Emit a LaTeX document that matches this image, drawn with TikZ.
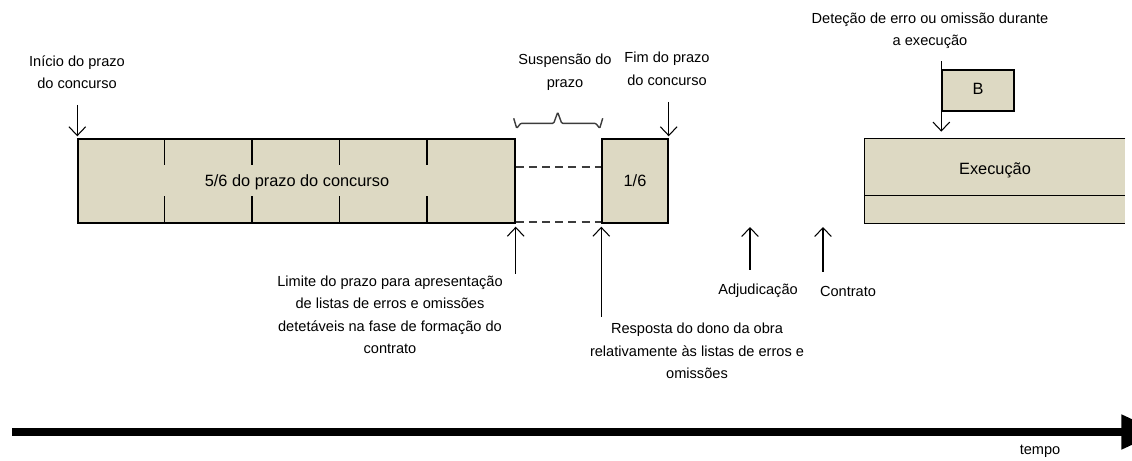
\documentclass[tikz,border=0pt]{standalone}
\usepackage{fontspec}
\setmainfont{Liberation Sans}
\usetikzlibrary{calc, arrows.meta}

\definecolor{bege}{RGB}{221,217,195}
\definecolor{cinzaesc}{RGB}{60,60,60}

\tikzset{
	bloco/.style = {draw, line width=0.8pt, fill=bege, inner sep=0pt},
	rotulo/.style = {align=center, font=\fontsize{8.3}{12.8}\selectfont},
	texto/.style = {font=\fontsize{9.3}{12}\selectfont},
	seta/.style = {-{Straight Barb[length=5pt, width=9.5pt]}, line width=0.6pt},
	tracejado/.style = {cinzaesc, line width=1.2pt, dash pattern=on 4.5pt off 3pt},
	chave/.style = {line width=0.8pt, cinzaesc, rounded corners=0.6pt},
	eixo/.style = {-{Triangle[length=22pt, width=19pt]}, line width=4pt}
}

\begin{document}
\begin{tikzpicture}[x=0.02cm, y=-0.02cm]
	\def\u{0.02cm};
	\useasboundingbox (0,0) rectangle (1132,460);
	
	% blocos do prazo do concurso
	\begin{scope}
		\node [bloco, minimum width=437*\u, minimum height=84*\u] (cinco) at (296.5,181) {};
		\node [texto] (cincoT) at (297,182) {5/6 do prazo do concurso};
		\foreach \k in {1,...,4} {
			\draw [line width=0.8pt] ($(cinco.north west)+(87.4*\k,0)$) -- ++(0,27);
			\draw [line width=0.8pt] ($(cinco.south west)+(87.4*\k,0)$) -- ++(0,-28);
		}
		
		\node [bloco, minimum width=66*\u, minimum height=84*\u] (sexto) at (635,181) {};
		\node [texto] (sextoT) at (635,181) {1/6};
		
		\draw [tracejado] ($(cinco.north east)+(0,29)$) -- ($(sexto.north west)+(0,29)$);
		\draw [tracejado] ($(cinco.south east)+(0,-2)$) -- ($(sexto.south west)+(0,-2)$);
		
		% chave da suspensao
		\coordinate (c0) at ($(cinco.north east)+(-2,-20)$);
		\draw [chave] (c0) -- ++(3,10) -- ++(4,-5) -- ++(33,0) -- ++(4,-11)
			-- ++(4,11) -- ++(34,0) -- ++(4,5) -- ++(3,-10);
	\end{scope}
	
	% execucao
	\begin{scope}
		\node [fill=bege, inner sep=0pt, minimum width=260*\u, minimum height=84*\u] (exec) at (995,181) {};
		\draw [line width=0.8pt] (exec.north east) -- (exec.north west) -- (exec.south west) -- (exec.south east);
		\draw [line width=0.8pt] ($(exec.south west)+(0,-28)$) -- ($(exec.south east)+(0,-28)$);
		\node [texto] (execT) at (995,170) {Execução};
		
		\node [bloco, minimum width=72*\u, minimum height=41*\u] (erro) at (978,90.5) {};
		\node [texto] (erroT) at (978,89) {B};
	\end{scope}
	
	% rotulos
	\node [rotulo] (inicio) at (77,72) {Início do prazo\\do concurso};
	\node [rotulo] (suspensao) at (565,72) {Suspensão do\\prazo};
	\node [rotulo] (fim) at (667,69) {Fim do prazo\\do concurso};
	\node [rotulo] (detecao) at (930,31) {Deteção de erro ou omissão durante\\a execução};
	\node [rotulo] (limite) at (390,315) {Limite do prazo para apresentação\\de listas de erros e omissões\\detetáveis na fase de formação do\\contrato};
	\node [rotulo] (resposta) at (697,351) {Resposta do dono da obra\\relativamente às listas de erros e\\omissões};
	\node [rotulo] (adjud) at (758,291) {Adjudicação};
	\node [rotulo] (contrato) at (848,291) {Contrato};
	\node [rotulo] (tempo) at (1040,451) {tempo};
	
	\coordinate (pAdj) at (750,227);
	\coordinate (pCon) at (823,227);
	
	% setas
	\draw [seta] ($(inicio.south -| cinco.north west)+(0,10)$) -- ($(cinco.north west)+(0,-2)$);
	\draw [seta] ($(fim.south -| sexto.north east)+(0,10)$) -- ($(sexto.north east)+(0,-2)$);
	\draw [seta] ($(cinco.south east)+(0,50)$) -- ($(cinco.south east)+(0,3)$);
	\draw [seta] (resposta.north -| sexto.south west) -- ($(sexto.south west)+(0,3)$);
	\draw [seta] ($(adjud.north -| pAdj)+(0,-8)$) -- (pAdj);
	\draw [seta] ($(contrato.north -| pCon)+(0,-8)$) -- (pCon);
	\draw [seta] ($(detecao.south -| erro.west)+(0,6)$) -- ($(exec.north -| erro.west)+(0,-7)$);
	
	% eixo do tempo
	\coordinate (t0) at (12,432);
	\coordinate (t1) at (1160,432);
	\draw [eixo] (t0) -- (t1);
\end{tikzpicture}
\end{document}
